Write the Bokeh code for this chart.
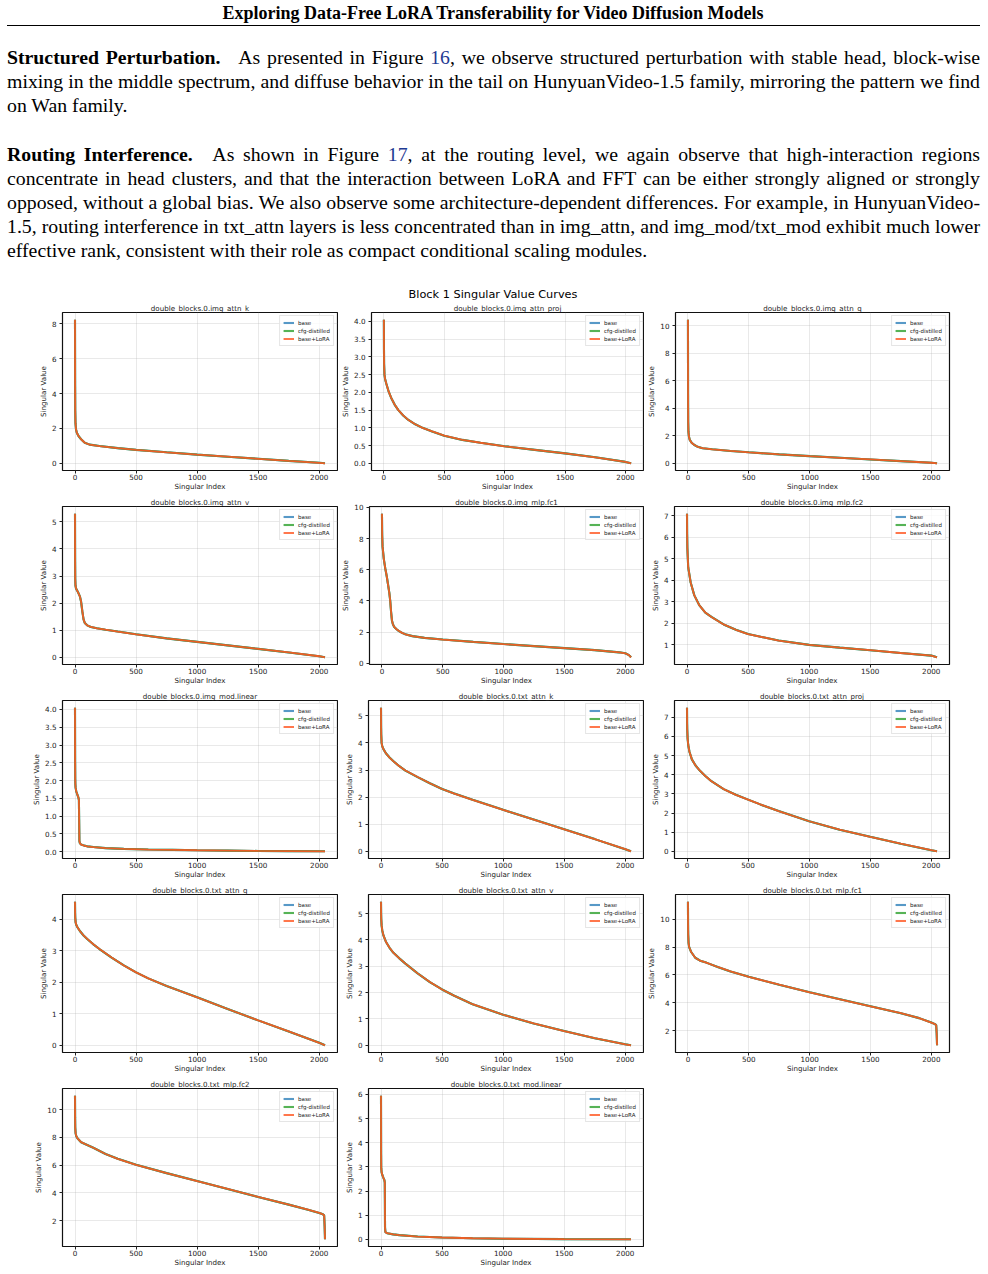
from bokeh.plotting import figure
from bokeh.models import Div, Range1d, FixedTicker, Legend, LegendItem, PrintfTickFormatter
from bokeh.layouts import column, row
from bokeh.embed import file_html
from bokeh.resources import INLINE

# ---------------- data ----------------
SERIES = ["base", "cfg-distilled", "base+LoRA"]
SERIES_COLORS = ["#1f77b4", "#2ca02c", "#ff5722"]
X_TICKS = [0, 500, 1000, 1500, 2000]
N_SINGULAR = 2048

MODULES = [
    "double_blocks.0.img_attn_k", "double_blocks.0.img_attn_proj", "double_blocks.0.img_attn_q",
    "double_blocks.0.img_attn_v", "double_blocks.0.img_mlp.fc1", "double_blocks.0.img_mlp.fc2",
    "double_blocks.0.img_mod.linear", "double_blocks.0.txt_attn_k", "double_blocks.0.txt_attn_proj",
    "double_blocks.0.txt_attn_q", "double_blocks.0.txt_attn_v", "double_blocks.0.txt_mlp.fc1",
    "double_blocks.0.txt_mlp.fc2", "double_blocks.0.txt_mod.linear",
]

img_attn_k_idx = [0, 1, 2, 4, 8, 15, 30, 50, 80, 120, 200, 350, 500, 750, 1000, 1250, 1500, 1750, 2000, 2047]
img_attn_k_sv = [8.23, 4.6, 3.0, 2.3, 1.95, 1.75, 1.55, 1.38, 1.18, 1.07, 0.99, 0.87, 0.77, 0.63, 0.5, 0.38, 0.26, 0.14, 0.03, 0.0]

img_attn_proj_idx = [0, 1, 2, 5, 10, 20, 40, 60, 90, 120, 160, 200, 260, 320, 400, 500, 650, 800, 1000, 1250, 1500, 1750, 2000, 2047]
img_attn_proj_sv = [4.05, 3.2, 2.8, 2.5, 2.38, 2.25, 2.02, 1.85, 1.65, 1.5, 1.35, 1.23, 1.1, 1.0, 0.9, 0.78, 0.66, 0.58, 0.48, 0.38, 0.28, 0.17, 0.04, 0.0]

img_attn_q_idx = [0, 1, 2, 4, 8, 15, 30, 50, 80, 120, 200, 350, 500, 750, 1000, 1250, 1500, 1750, 2000, 2047]
img_attn_q_sv = [10.45, 5.0, 3.0, 2.3, 1.95, 1.7, 1.5, 1.35, 1.2, 1.1, 1.02, 0.9, 0.8, 0.65, 0.52, 0.4, 0.28, 0.16, 0.04, 0.0]

img_attn_v_idx = [0, 1, 2, 4, 8, 15, 25, 40, 50, 60, 70, 80, 100, 130, 180, 250, 350, 500, 750, 1000, 1250, 1500, 1750, 2000, 2047]
img_attn_v_sv = [5.3, 3.6, 2.9, 2.65, 2.55, 2.48, 2.4, 2.25, 2.05, 1.7, 1.4, 1.27, 1.18, 1.12, 1.07, 1.02, 0.95, 0.85, 0.7, 0.57, 0.44, 0.31, 0.18, 0.04, 0.0]

img_mlp_fc1_idx = [0, 2, 5, 15, 27, 40, 49, 60, 68, 75, 82, 90, 101, 120, 137, 165, 192, 250, 350, 500, 750, 1000, 1250, 1500, 1750, 1950, 2000, 2030, 2047]
img_mlp_fc1_sv = [9.6, 8.2, 7.5, 6.7, 6.1, 5.55, 5.1, 4.55, 4.0, 3.3, 2.75, 2.5, 2.33, 2.18, 2.08, 1.95, 1.86, 1.74, 1.63, 1.52, 1.37, 1.23, 1.1, 0.97, 0.84, 0.7, 0.64, 0.52, 0.38]

img_mlp_fc2_idx = [0, 1, 3, 10, 30, 60, 100, 150, 200, 300, 400, 500, 750, 1000, 1250, 1500, 1750, 2000, 2047]
img_mlp_fc2_sv = [7.1, 6.2, 5.5, 4.6, 3.9, 3.3, 2.85, 2.5, 2.3, 1.95, 1.7, 1.5, 1.2, 1.0, 0.87, 0.75, 0.62, 0.5, 0.42]

img_mod_linear_idx = [0, 1, 2, 3, 5, 10, 20, 28, 32, 34, 36, 40, 50, 75, 100, 150, 250, 400, 600, 800, 1000, 1250, 1500, 1750, 2047]
img_mod_linear_sv = [4.05, 2.6, 2.05, 1.9, 1.8, 1.7, 1.6, 1.52, 1.45, 0.9, 0.3, 0.24, 0.2, 0.17, 0.15, 0.13, 0.1, 0.08, 0.06, 0.05, 0.04, 0.03, 0.02, 0.015, 0.01]

txt_attn_k_idx = [0, 1, 2, 5, 10, 20, 40, 70, 100, 150, 200, 300, 400, 500, 600, 750, 1000, 1250, 1500, 1750, 2000, 2047]
txt_attn_k_sv = [5.3, 4.6, 4.3, 4.0, 3.88, 3.77, 3.62, 3.46, 3.33, 3.14, 2.98, 2.74, 2.51, 2.3, 2.13, 1.9, 1.53, 1.17, 0.81, 0.45, 0.08, 0.0]

txt_attn_proj_idx = [0, 1, 2, 5, 10, 20, 40, 70, 100, 150, 200, 300, 400, 500, 600, 750, 1000, 1250, 1500, 1750, 2000, 2047]
txt_attn_proj_sv = [7.5, 6.7, 6.35, 5.9, 5.55, 5.2, 4.8, 4.48, 4.25, 3.93, 3.66, 3.25, 2.95, 2.7, 2.45, 2.1, 1.57, 1.13, 0.76, 0.4, 0.06, 0.0]

txt_attn_q_idx = [0, 1, 2, 5, 10, 20, 40, 70, 100, 150, 200, 300, 400, 500, 600, 750, 1000, 1250, 1500, 1750, 2000, 2047]
txt_attn_q_sv = [4.55, 4.2, 4.05, 3.9, 3.82, 3.74, 3.62, 3.48, 3.37, 3.2, 3.05, 2.78, 2.53, 2.31, 2.12, 1.88, 1.52, 1.15, 0.79, 0.44, 0.08, 0.0]

txt_attn_v_idx = [0, 1, 2, 5, 10, 20, 40, 70, 100, 150, 200, 300, 400, 500, 600, 750, 1000, 1250, 1500, 1750, 2000, 2047]
txt_attn_v_sv = [5.45, 5.0, 4.8, 4.55, 4.37, 4.17, 3.93, 3.7, 3.52, 3.3, 3.1, 2.73, 2.4, 2.12, 1.88, 1.56, 1.16, 0.83, 0.54, 0.27, 0.04, 0.0]

txt_mlp_fc1_idx = [0, 1, 2, 5, 10, 25, 60, 100, 150, 250, 350, 500, 750, 1000, 1250, 1500, 1750, 1900, 2000, 2030, 2040, 2044, 2047]
txt_mlp_fc1_sv = [11.25, 9.6, 8.9, 8.3, 8.0, 7.66, 7.23, 7.02, 6.88, 6.55, 6.25, 5.86, 5.3, 4.75, 4.25, 3.75, 3.25, 2.9, 2.58, 2.47, 2.4, 1.8, 0.95]

txt_mlp_fc2_idx = [0, 1, 2, 5, 10, 20, 50, 100, 150, 250, 350, 500, 750, 1000, 1250, 1500, 1750, 1900, 2000, 2030, 2040, 2044, 2047]
txt_mlp_fc2_sv = [11.0, 9.4, 8.7, 8.3, 8.1, 7.93, 7.65, 7.45, 7.25, 6.8, 6.45, 6.02, 5.42, 4.85, 4.28, 3.7, 3.15, 2.8, 2.55, 2.45, 2.38, 1.6, 0.65]

txt_mod_linear_idx = [0, 1, 2, 5, 10, 20, 28, 31, 33, 36, 50, 100, 150, 300, 500, 750, 1000, 1500, 2047]
txt_mod_linear_sv = [5.95, 3.6, 2.95, 2.78, 2.68, 2.55, 2.45, 2.35, 0.5, 0.3, 0.26, 0.21, 0.18, 0.12, 0.08, 0.05, 0.03, 0.015, 0.005]

Y_TICKS = {
    "double_blocks.0.img_attn_k": [0, 2, 4, 6, 8],
    "double_blocks.0.img_attn_proj": [0.0, 0.5, 1.0, 1.5, 2.0, 2.5, 3.0, 3.5, 4.0],
    "double_blocks.0.img_attn_q": [0, 2, 4, 6, 8, 10],
    "double_blocks.0.img_attn_v": [0, 1, 2, 3, 4, 5],
    "double_blocks.0.img_mlp.fc1": [0, 2, 4, 6, 8, 10],
    "double_blocks.0.img_mlp.fc2": [1, 2, 3, 4, 5, 6, 7],
    "double_blocks.0.img_mod.linear": [0.0, 0.5, 1.0, 1.5, 2.0, 2.5, 3.0, 3.5, 4.0],
    "double_blocks.0.txt_attn_k": [0, 1, 2, 3, 4, 5],
    "double_blocks.0.txt_attn_proj": [0, 1, 2, 3, 4, 5, 6, 7],
    "double_blocks.0.txt_attn_q": [0, 1, 2, 3, 4],
    "double_blocks.0.txt_attn_v": [0, 1, 2, 3, 4, 5],
    "double_blocks.0.txt_mlp.fc1": [2, 4, 6, 8, 10],
    "double_blocks.0.txt_mlp.fc2": [2, 4, 6, 8, 10],
    "double_blocks.0.txt_mod.linear": [0, 1, 2, 3, 4, 5, 6],
}

CURVES = {
    "double_blocks.0.img_attn_k": (img_attn_k_idx, img_attn_k_sv),
    "double_blocks.0.img_attn_proj": (img_attn_proj_idx, img_attn_proj_sv),
    "double_blocks.0.img_attn_q": (img_attn_q_idx, img_attn_q_sv),
    "double_blocks.0.img_attn_v": (img_attn_v_idx, img_attn_v_sv),
    "double_blocks.0.img_mlp.fc1": (img_mlp_fc1_idx, img_mlp_fc1_sv),
    "double_blocks.0.img_mlp.fc2": (img_mlp_fc2_idx, img_mlp_fc2_sv),
    "double_blocks.0.img_mod.linear": (img_mod_linear_idx, img_mod_linear_sv),
    "double_blocks.0.txt_attn_k": (txt_attn_k_idx, txt_attn_k_sv),
    "double_blocks.0.txt_attn_proj": (txt_attn_proj_idx, txt_attn_proj_sv),
    "double_blocks.0.txt_attn_q": (txt_attn_q_idx, txt_attn_q_sv),
    "double_blocks.0.txt_attn_v": (txt_attn_v_idx, txt_attn_v_sv),
    "double_blocks.0.txt_mlp.fc1": (txt_mlp_fc1_idx, txt_mlp_fc1_sv),
    "double_blocks.0.txt_mlp.fc2": (txt_mlp_fc2_idx, txt_mlp_fc2_sv),
    "double_blocks.0.txt_mod.linear": (txt_mod_linear_idx, txt_mod_linear_sv),
}

# ---------------- page text ----------------
SERIF = "'Liberation Serif', 'Times New Roman', serif"
LINK = "#1f3a93"
HEADER_H = 299


def text_line(top, inner, last=False):
    align_last = "left" if last else "justify"
    return (f'<div style="position:absolute;left:7px;width:973px;top:{top}px;height:24px;'
            f'line-height:24px;font-size:19.8px;text-align:justify;text-align-last:{align_last};">'
            f'{inner}</div>')


gap = '<span style="display:inline-block;width:12px"></span>'
lines = [
    (45, f'<b>Structured Perturbation.</b>{gap} As presented in Figure <span style="color:{LINK}">16</span>, we observe structured perturbation with stable head, block-wise', False),
    (69, 'mixing in the middle spectrum, and diffuse behavior in the tail on HunyuanVideo-1.5 family, mirroring the pattern we find', False),
    (93, 'on Wan family.', True),
    (142, f'<b>Routing Interference.</b>{gap} As shown in Figure <span style="color:{LINK}">17</span>, at the routing level, we again observe that high-interaction regions', False),
    (166, 'concentrate in head clusters, and that the interaction between LoRA and FFT can be either strongly aligned or strongly', False),
    (190, 'opposed, without a global bias. We also observe some architecture-dependent differences. For example, in HunyuanVideo-', False),
    (214, '1.5, routing interference in txt_attn layers is less concentrated than in img_attn, and img_mod/txt_mod exhibit much lower', False),
    (238, 'effective rank, consistent with their role as compact conditional scaling modules.', True),
]

html = [f'<div style="position:relative;width:988px;height:{HEADER_H}px;font-family:{SERIF};color:#000;">']
html.append('<div style="position:absolute;left:0;width:986px;top:2px;text-align:center;font-weight:bold;'
            'font-size:18px;line-height:22px;">Exploring Data-Free LoRA Transferability for Video Diffusion Models</div>')
html.append('<div style="position:absolute;left:7px;width:973px;top:25px;height:0;border-top:1.6px solid #000;"></div>')
for top, inner, last in lines:
    html.append(text_line(top, inner, last))
html.append('<div style="position:absolute;left:0;width:986px;top:288px;text-align:center;'
            "font-family:'DejaVu Sans';font-size:11.3px;line-height:14px;\">Block 1 Singular Value Curves</div>")
html.append('</div>')
header = Div(text="".join(html), width=988, height=HEADER_H, margin=0)

# ---------------- subplots ----------------
FONT = "DejaVu Sans"
FRAME_W, FRAME_H = 275, 158
COL_BORDERS = [(62, 1), (30, 1), (30, 2)]   # (left, right)
TOP, BOTTOM = 13, 23


def make_plot(name, col):
    idx, sv = CURVES[name]
    left, right = COL_BORDERS[col]
    lo, hi = min(sv), max(sv)
    pad = 0.05 * (hi - lo)
    xpad = 0.05 * (N_SINGULAR - 1)
    p = figure(width=left + FRAME_W + right, height=TOP + FRAME_H + BOTTOM,
               output_backend="svg", toolbar_location=None,
               x_range=Range1d(-xpad, N_SINGULAR - 1 + xpad), y_range=Range1d(lo - pad, hi + pad),
               min_border_left=left, min_border_right=right, min_border_top=TOP, min_border_bottom=BOTTOM)
    p.title.text = name
    p.title.align = "center"
    p.title.text_font = FONT
    p.title.text_font_size = "7.1px"
    p.title.text_font_style = "normal"
    p.title.text_color = "#222222"
    p.title.standoff = 0
    p.outline_line_color = "#111111"
    p.outline_line_width = 1.2
    p.background_fill_color = "white"
    p.border_fill_color = "white"

    yt = Y_TICKS[name]
    p.xaxis.ticker = FixedTicker(ticks=X_TICKS)
    p.yaxis.ticker = FixedTicker(ticks=yt)
    p.xaxis.formatter = PrintfTickFormatter(format="%d")
    if any(float(t) != int(t) for t in yt):
        p.yaxis.formatter = PrintfTickFormatter(format="%.1f")
    else:
        p.yaxis.formatter = PrintfTickFormatter(format="%d")
    p.xaxis.axis_label = "Singular Index"
    p.yaxis.axis_label = "Singular Value"
    for ax in (p.xaxis, p.yaxis):
        ax.axis_line_color = None
        ax.major_tick_out = 3
        ax.major_tick_in = 0
        ax.minor_tick_line_color = None
        ax.major_tick_line_color = "#222222"
        ax.major_label_text_font = FONT
        ax.major_label_text_font_size = "7.2px"
        ax.major_label_text_color = "#1a1a1a"
        ax.axis_label_text_font = FONT
        ax.axis_label_text_font_size = "7.1px"
        ax.axis_label_text_font_style = "normal"
        ax.axis_label_text_color = "#222222"
    p.xaxis.major_label_standoff = 0
    p.xaxis.axis_label_standoff = -1
    p.yaxis.major_label_standoff = 3
    p.yaxis.axis_label_standoff = 1
    p.grid.grid_line_color = "#b0b0b0"
    p.grid.grid_line_alpha = 0.35
    p.grid.grid_line_width = 0.8

    styles = [(2.1, 0.75), (2.1, 0.8), (1.8, 0.9)]
    items = []
    for label, color, (lw, alpha) in zip(SERIES, SERIES_COLORS, styles):
        r = p.line(idx, sv, line_color=color, line_width=lw, line_alpha=alpha)
        items.append(LegendItem(label=label, renderers=[r]))
    legend = Legend(items=items, location="top_right")
    legend.label_text_font = FONT
    legend.label_text_font_size = "5.5px"
    legend.label_text_color = "#222222"
    legend.label_height = 7
    legend.glyph_height = 7
    legend.glyph_width = 11
    legend.label_standoff = 4
    legend.spacing = 1
    legend.padding = 3
    legend.margin = 3
    legend.border_line_color = "#cccccc"
    legend.border_line_width = 0.8
    legend.background_fill_alpha = 0.8
    p.add_layout(legend)
    return p


plots = [make_plot(name, i % 3) for i, name in enumerate(MODULES)]
rows = [row(*plots[i:i + 3], spacing=0) for i in range(0, len(plots), 3)]
page = column(header, *rows, spacing=0)

open("out.html", "w").write(file_html(page, INLINE))
